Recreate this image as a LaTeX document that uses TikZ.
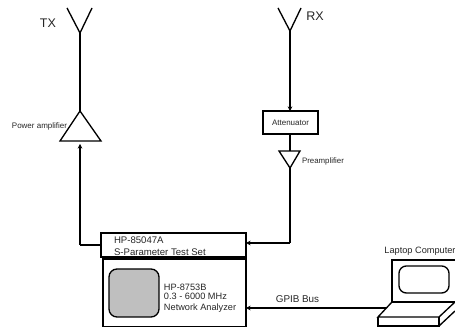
\documentclass[tikz,border=0pt]{standalone}
\usepackage{fontspec}
\setmainfont{Liberation Sans}
\usetikzlibrary{arrows.meta}
\tikzset{
  ln/.style={draw=black,line width=1pt,line join=miter},
  wire/.style={ln,-{Stealth[length=3.5pt,width=3.5pt]}},
  lab/.style={inner sep=0pt,outer sep=0pt,text=black!85},
}
\begin{document}
\begin{tikzpicture}[x=0.75pt,y=-0.75pt]
\useasboundingbox (0,0) rectangle (455,327);
% TX chain
\coordinate (txtip) at (80,33);
\coordinate (paTop) at (80,111);
\coordinate (paL) at (60,141);
\coordinate (paR) at (101,141);
\coordinate (paIn) at (80,144);
\draw[ln] (67,8) -- (txtip) -- (92,8);
\draw[ln] (txtip) -- (paTop);
\draw[ln] (paTop) -- (paL) -- (paR) -- cycle;
\node[lab,font=\fontsize{9.4}{10}\selectfont] (tx) at (48,23) {TX};
\node[lab,font=\fontsize{6}{7}\selectfont] (palab) at (39.5,126) {Power amplifier};
% RX chain
\coordinate (rxtip) at (290,31);
\draw[ln] (278,8) -- (rxtip) -- (301,8);
\node[lab,font=\fontsize{9.4}{10}\selectfont] (rx) at (315,16) {RX};
\node[draw=black,line width=1pt,minimum width=41.25pt,minimum height=17.25pt,inner sep=0pt,outer sep=0pt,font=\fontsize{6}{7}\selectfont,text=black!85] (att) at (290.5,122.5) {Attenuator};
\draw[wire] (rxtip) -- (rxtip|-att.north);
\coordinate (preTop) at (290,151);
\coordinate (preTip) at (290,168);
\draw[ln] (279,151) -- (300,151) -- (preTip) -- cycle;
\draw[ln] (att.south-|preTop) -- (preTop);
\node[lab,font=\fontsize{5.9}{7}\selectfont] (prelab) at (323,161) {Preamplifier};
% Instruments
\node[draw=black,line width=1pt,minimum width=108.75pt,minimum height=18pt,inner sep=0pt,outer sep=0pt] (ts) at (173.5,245) {};
\node[lab,font=\fontsize{7.2}{8.4}\selectfont,anchor=west,align=left] (tslab) at (114,246) {HP-85047A\\[0.6pt]S-Parameter Test Set};
\node[draw=black,line width=1pt,minimum width=107.25pt,minimum height=51pt,inner sep=0pt,outer sep=0pt] (na) at (174.5,293) {};
\node[draw=black,line width=1pt,fill=black!25,rounded corners=6pt,minimum width=37.5pt,minimum height=36pt,inner sep=0pt,outer sep=0pt] (scr) at (134,293) {};
\node[lab,font=\fontsize{6.9}{6.9}\selectfont,anchor=west,align=left] (nalab) at (164,298.5) {HP-8753B\\0.3 - 6000 MHz\\[1.5pt]Network Analyzer};
% Laptop
\node[lab,font=\fontsize{6.9}{7}\selectfont] (lclab) at (420,251) {Laptop Computer};
\coordinate (lapIn) at (386,308);
\draw[ln] (455,260) -- (392,260) -- (392,302);
\draw[ln] (392,302) -- (455,302);
\node[draw=black,line width=1pt,rounded corners=5.5pt,minimum width=37.5pt,minimum height=20.25pt,inner sep=0pt,outer sep=0pt] (lscr) at (424,279.5) {};
\draw[ln] (392,302) -- (378,317) -- (439,317) -- (455,302);
\draw[ln] (378,317) -- (378,326) -- (439,326) -- (439,317);
\draw[ln] (439,326) -- (455,311);
% Wires
\draw[wire] (paIn|-ts.west) -- (paIn);
\draw[ln] (ts.west) -- (paIn|-ts.west);
\draw[ln] (preTip) -- (290,243);
\draw[wire] (290,243) -- (ts.east|-0,243);
\draw[wire] (lapIn) -- (na.east|-lapIn);
\node[lab,font=\fontsize{7.4}{8}\selectfont] (gpib) at (297.5,299.5) {GPIB Bus};
\end{tikzpicture}
\end{document}
